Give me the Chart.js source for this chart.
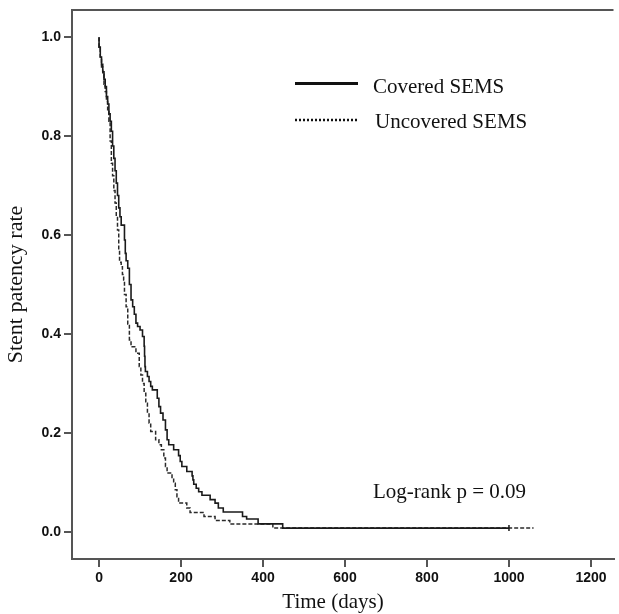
<!DOCTYPE html>
<html lang="en">

<head>
  <meta charset="UTF-8">
  <title>Stent patency</title>
  <style>
    body { margin: 0; background: #ffffff; }
    canvas { display: block; }
  </style>
</head>

<body>
  <canvas id="grafico" width="619" height="614"></canvas>
  <script src="https://cdn.jsdelivr.net/npm/chart.js"></script>
</body>

</html>

<script>
  // curva dos stents cobertos (linha continua)
  var coveredDays = [0, 3, 6, 9, 12, 15, 18, 21, 24, 27, 30, 33, 36, 39, 42, 45, 48, 51, 54, 62,
    64, 66, 70, 74, 78, 82, 86, 90, 94, 100, 106, 110, 111, 112, 113, 118, 122, 126, 130, 142,
    146, 150, 156, 162, 166, 170, 182, 194, 198, 202, 214, 227, 229, 231, 237, 243, 251, 271, 283, 291,
    303, 350, 360, 388, 448, 472, 1000];
  var coveredRate = [1.0, 0.98, 0.96, 0.945, 0.93, 0.915, 0.9, 0.88, 0.865, 0.845, 0.83, 0.81, 0.78, 0.755, 0.73, 0.705, 0.68, 0.655, 0.637, 0.62,
    0.59, 0.563, 0.548, 0.533, 0.5, 0.469, 0.455, 0.44, 0.422, 0.415, 0.408, 0.395, 0.375, 0.355, 0.334, 0.324, 0.314, 0.304, 0.294, 0.287,
    0.27, 0.253, 0.24, 0.226, 0.206, 0.186, 0.176, 0.166, 0.154, 0.142, 0.132, 0.122, 0.113, 0.105, 0.096, 0.088, 0.081, 0.074, 0.065, 0.058,
    0.048, 0.04, 0.031, 0.026, 0.016, 0.0075, 0.0075];

  // curva dos stents nao cobertos (linha tracejada)
  var uncoveredDays = [0, 3, 6, 9, 12, 15, 18, 21, 24, 27, 30, 33, 36, 39, 42, 45, 48, 50, 54, 57,
    60, 62, 66, 70, 74, 78, 90, 98, 102, 106, 110, 114, 118, 122, 126, 138, 146, 152, 158, 162,
    166, 178, 182, 186, 190, 194, 214, 222, 256, 283, 319, 424, 718, 1060];
  var uncoveredRate = [1.0, 0.98, 0.96, 0.94, 0.925, 0.905, 0.89, 0.87, 0.85, 0.83, 0.79, 0.745, 0.72, 0.69, 0.665, 0.637, 0.61, 0.57, 0.545, 0.536,
    0.52, 0.509, 0.48, 0.455, 0.42, 0.388, 0.374, 0.361, 0.334, 0.317, 0.30, 0.28, 0.26, 0.24, 0.22, 0.203, 0.186, 0.176, 0.166, 0.149,
    0.132, 0.119, 0.108, 0.098, 0.085, 0.071, 0.058, 0.048, 0.039, 0.031, 0.023, 0.016, 0.0075, 0.0075];

  var xTickValues = [0, 200, 400, 600, 800, 1000, 1200];
  var yTickValues = [0.0, 0.2, 0.4, 0.6, 0.8, 1.0];

  var seriesNames = ['Covered SEMS', 'Uncovered SEMS'];
  var xTitle = 'Time (days)';
  var yTitle = 'Stent patency rate';
  var pValueText = 'Log-rank p = 0.09';

  var serif = '"Liberation Serif", "Times New Roman", serif';
  var sans = '"Liberation Sans", Arial, sans-serif';
  var axisColor = '#555555';

  function montarPontos(dias, taxas) {
    var pontos = [];
    for (var i = 0; i < dias.length; i++) {
      pontos.push({ x: dias[i], y: taxas[i] });
    }
    return pontos;
  }

  // moldura de cima, legenda, texto do log-rank e titulo do eixo x
  var extras = {
    id: 'extras',
    afterDraw: function (chart) {
      var ctx = chart.ctx;
      var area = chart.chartArea;
      ctx.save();

      ctx.strokeStyle = axisColor;
      ctx.lineWidth = 2;
      ctx.beginPath();
      ctx.moveTo(area.left, area.top);
      ctx.lineTo(area.right, area.top);
      ctx.stroke();

      ctx.strokeStyle = '#111111';
      ctx.lineWidth = 3;
      ctx.beginPath();
      ctx.moveTo(295, 83.5);
      ctx.lineTo(358, 83.5);
      ctx.stroke();

      ctx.lineWidth = 2.5;
      ctx.setLineDash([2, 2]);
      ctx.beginPath();
      ctx.moveTo(295, 120);
      ctx.lineTo(358, 120);
      ctx.stroke();
      ctx.setLineDash([]);

      ctx.fillStyle = '#111111';
      ctx.font = '21px ' + serif;
      ctx.textAlign = 'left';
      ctx.textBaseline = 'alphabetic';
      ctx.fillText(seriesNames[0], 373, 93);
      ctx.fillText(seriesNames[1], 375, 128);
      ctx.fillText(pValueText, 373, 498);

      ctx.textAlign = 'center';
      ctx.textBaseline = 'middle';
      ctx.fillText(xTitle, 333, 602);
      ctx.restore();
    }
  };

  var config = {
    type: 'line',
    data: {
      datasets: [{
        label: seriesNames[0],
        data: montarPontos(coveredDays, coveredRate),
        borderColor: '#1a1a1a',
        borderWidth: 1.6,
        stepped: 'after',
        fill: false,
        pointStyle: 'line',
        rotation: 90,
        pointBorderColor: '#1a1a1a',
        pointBorderWidth: 1.5,
        pointRadius: function (c) { return c.dataIndex === coveredDays.length - 1 ? 3 : 0; }
      }, {
        label: seriesNames[1],
        data: montarPontos(uncoveredDays, uncoveredRate),
        borderColor: '#2a2a2a',
        borderWidth: 1.5,
        borderDash: [4, 2],
        stepped: 'after',
        fill: false,
        pointRadius: 0
      }]
    },
    options: {
      responsive: false,
      animation: false,
      devicePixelRatio: 1,
      layout: { padding: { top: 10, right: 0, bottom: 0, left: 0 } },
      plugins: {
        legend: { display: false },
        tooltip: { enabled: false }
      },
      scales: {
        x: {
          type: 'linear',
          min: -66,
          max: 1255,
          afterBuildTicks: function (scale) {
            scale.ticks = xTickValues.map(function (v) { return { value: v }; });
          },
          afterFit: function (scale) {
            scale.height = 55;
            scale.paddingLeft = 0;
            scale.paddingRight = 0;
          },
          grid: { drawOnChartArea: false, tickLength: 8, color: axisColor, lineWidth: 2 },
          border: { display: true, color: axisColor, width: 2 },
          ticks: {
            padding: 3,
            maxRotation: 0,
            color: '#111111',
            font: { family: sans, size: 14, weight: 'bold' },
            callback: function (v) { return String(v); }
          },
          title: { display: false }
        },
        y: {
          type: 'linear',
          min: -0.055,
          max: 1.055,
          afterBuildTicks: function (scale) {
            scale.ticks = yTickValues.map(function (v) { return { value: v }; });
          },
          afterFit: function (scale) {
            scale.width = 72;
            scale.paddingTop = 0;
            scale.paddingBottom = 0;
          },
          grid: { drawOnChartArea: false, tickLength: 8, color: axisColor, lineWidth: 2 },
          border: { display: true, color: axisColor, width: 2 },
          ticks: {
            padding: 3,
            color: '#111111',
            font: { family: sans, size: 14, weight: 'bold' },
            callback: function (v) { return Number(v).toFixed(1); }
          },
          title: {
            display: true,
            text: yTitle,
            color: '#111111',
            padding: { top: 3, bottom: 0 },
            font: { family: serif, size: 22 }
          }
        }
      }
    },
    plugins: [extras]
  };

  var myChart = new Chart(document.getElementById('grafico'), config);
</script>
